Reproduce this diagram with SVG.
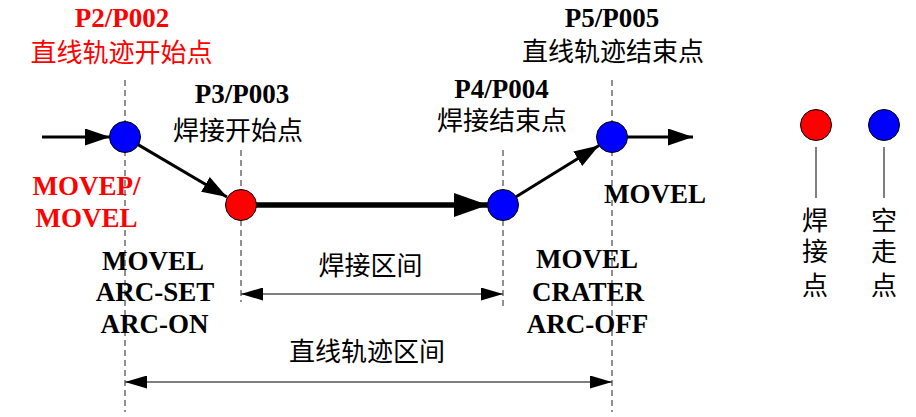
<svg xmlns="http://www.w3.org/2000/svg" width="916" height="417" viewBox="0 0 916 417">
<defs>
<marker id="ah" markerUnits="userSpaceOnUse" markerWidth="25" markerHeight="17" refX="25" refY="8.5" orient="auto"><path d="M0,0 L25,8.5 L0,17 Z" fill="#000"/></marker>
<marker id="ahb" markerUnits="userSpaceOnUse" markerWidth="34" markerHeight="24" refX="34" refY="12" orient="auto"><path d="M0,0 L34,12 L0,24 Z" fill="#000"/></marker>
<marker id="dim" markerUnits="userSpaceOnUse" markerWidth="22" markerHeight="13" refX="22" refY="6.5" orient="auto-start-reverse"><path d="M0,0 L22,6.5 L0,13 Z" fill="#000"/></marker>
</defs>
<style>
.lat{font-family:"Liberation Serif","Times New Roman",serif;font-weight:bold;font-size:27px;text-anchor:middle}
.cjk{font-family:"Liberation Serif","Noto Sans CJK SC",serif;font-size:26px;text-anchor:middle}
.red{fill:#f00}
.blk{fill:#000}
.guide{stroke:#222;stroke-width:1;stroke-dasharray:6,4;fill:none}
.conn{stroke:#000;stroke-width:3;fill:none}
.thick{stroke:#000;stroke-width:5.5;fill:none}
.dimln{stroke:#555;stroke-width:1.5;fill:none}
.pr{fill:#f00;stroke:#000;stroke-width:1}
.pb{fill:#0000ff;stroke:#000;stroke-width:1}
.leg{stroke:#000;stroke-width:1}
</style>
<rect width="916" height="417" fill="#fff"/>
<g id="guides">
<line class="guide" x1="125" y1="80" x2="125" y2="412"/>
<line class="guide" x1="241" y1="150" x2="241" y2="302"/>
<line class="guide" x1="503" y1="150" x2="503" y2="308"/>
<line class="guide" x1="612" y1="80" x2="612" y2="412"/>
</g>
<g id="connectors">
<line class="conn" x1="42" y1="137" x2="110" y2="137" marker-end="url(#ah)"/>
<line class="conn" x1="138" y1="144.6" x2="227" y2="197" marker-end="url(#ah)"/>
<line class="thick" x1="256" y1="205" x2="488" y2="205" marker-end="url(#ahb)"/>
<line class="conn" x1="515.7" y1="197" x2="599" y2="145.5" marker-end="url(#ah)"/>
<line class="conn" x1="627" y1="137" x2="693" y2="137" marker-end="url(#ah)"/>
<line class="dimln" x1="241" y1="294" x2="503" y2="294" marker-start="url(#dim)" marker-end="url(#dim)"/>
<line class="dimln" x1="125" y1="382" x2="612" y2="382" marker-start="url(#dim)" marker-end="url(#dim)"/>
</g>
<g id="p2">
<circle class="pb" cx="125" cy="137" r="15.5"/>
<text class="lat red" x="122" y="27">P2/P002</text>
<text class="cjk red" x="121.5" y="62">直线轨迹开始点</text>
<text class="lat red" x="86.5" y="195">MOVEP/</text>
<text class="lat red" x="86.5" y="227">MOVEL</text>
</g>
<g id="p3">
<circle class="pr" cx="241" cy="205" r="15.5"/>
<text class="lat blk" x="242" y="103">P3/P003</text>
<text class="cjk blk" x="238" y="140">焊接开始点</text>
<text class="lat blk" x="153" y="270">MOVEL</text>
<text class="lat blk" x="155" y="301">ARC-SET</text>
<text class="lat blk" x="154.5" y="333">ARC-ON</text>
</g>
<g id="p4">
<circle class="pb" cx="503" cy="205" r="15.5"/>
<text class="lat blk" x="501.5" y="98">P4/P004</text>
<text class="cjk blk" x="502" y="130">焊接结束点</text>
<text class="lat blk" x="587" y="268">MOVEL</text>
<text class="lat blk" x="588" y="301">CRATER</text>
<text class="lat blk" x="587.5" y="333">ARC-OFF</text>
</g>
<g id="p5">
<circle class="pb" cx="612" cy="137" r="15.5"/>
<text class="lat blk" x="612" y="27">P5/P005</text>
<text class="cjk blk" x="613" y="61">直线轨迹结束点</text>
<text class="lat blk" x="655" y="203">MOVEL</text>
</g>
<g id="span-labels">
<text class="cjk blk" x="370.5" y="275">焊接区间</text>
<text class="cjk blk" x="367" y="361">直线轨迹区间</text>
</g>
<g id="legend-weld">
<circle class="pr" cx="816" cy="125" r="15.5"/>
<line class="leg" x1="816" y1="147" x2="816" y2="198"/>
<text class="cjk blk" x="815" y="230">焊</text>
<text class="cjk blk" x="815" y="261">接</text>
<text class="cjk blk" x="815" y="295">点</text>
</g>
<g id="legend-move">
<circle class="pb" cx="884" cy="125" r="15.5"/>
<line class="leg" x1="884" y1="147" x2="884" y2="198"/>
<text class="cjk blk" x="884" y="230">空</text>
<text class="cjk blk" x="884" y="261">走</text>
<text class="cjk blk" x="884" y="295">点</text>
</g>
</svg>
